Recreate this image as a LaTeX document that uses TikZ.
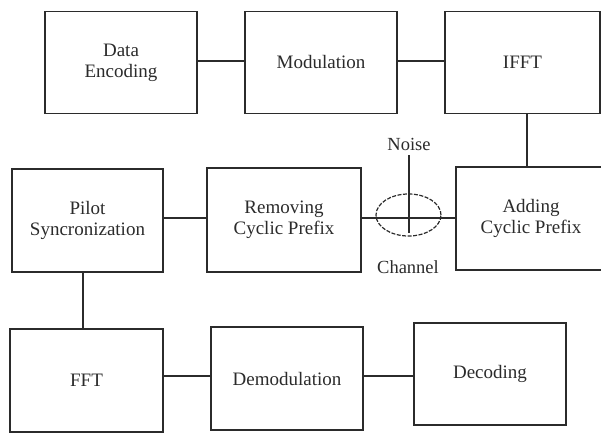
\documentclass[tikz,border=0pt]{standalone}
\usepackage{fontspec}
\setmainfont{Liberation Serif}
\usetikzlibrary{shapes.geometric}
\definecolor{ink}{HTML}{2B2B2B}
\tikzset{
  blk/.style={draw=ink, line width=1.1pt, rectangle, inner sep=0pt, align=center,
    font=\fontsize{19}{21}\selectfont, text=ink},
  conn/.style={draw=ink, line width=1.1pt},
  thickconn/.style={draw=ink, line width=2.4pt},
  lbl/.style={font=\fontsize{18.5}{20}\selectfont, text=ink, inner sep=0pt},
}
\begin{document}
\begin{tikzpicture}[x=1pt,y=-1pt]
\useasboundingbox (0,0) rectangle (601,433);
% top row
\node[blk, minimum width=152pt, minimum height=102pt] (de) at (121,62.5) {Data\\Encoding};
\node[blk, minimum width=152pt, minimum height=102pt] (mod) at (321,62.5) {Modulation};
\node[blk, minimum width=155pt, minimum height=102pt] (ifft) at (522.5,62.5) {IFFT};
% middle row
\node[blk, minimum width=151pt, minimum height=103pt] (pil) at (87.5,220.5) {Pilot\\Syncronization};
\node[blk, minimum width=154pt, minimum height=104pt] (rem) at (284,220) {Removing\\Cyclic Prefix};
\node[blk, minimum width=150pt, minimum height=103pt] (add) at (531,218.5) {Adding\\Cyclic Prefix};
% bottom row
\node[blk, minimum width=153pt, minimum height=103pt] (fft) at (86.5,380.5) {FFT};
\node[blk, minimum width=152pt, minimum height=103pt] (dem) at (287,378.5) {Demodulation};
\node[blk, minimum width=152pt, minimum height=102pt] (dec) at (490,374) {Decoding};
% channel
\node[draw=ink, line width=1.2pt, dash pattern=on 4pt off 1.5pt, ellipse,
      minimum width=65pt, minimum height=42pt, inner sep=0pt] (ch) at (408.5,215) {};
\node[lbl] (noise) at (409,144) {Noise};
\node[lbl] (chl) at (408,267) {Channel};
\coordinate (nz) at (409,233);
% connectors
\draw[conn] (de.east |- 0,61) -- (mod.west |- 0,61);
\draw[conn] (mod.east |- 0,61) -- (ifft.west |- 0,61);
\draw[conn] (ifft.south -| 527,0) -- (add.north -| 527,0);
\draw[thickconn] (add.west |- 0,218) -- (rem.east |- 0,218);
\draw[thickconn] (rem.west |- 0,218) -- (pil.east |- 0,218);
\draw[conn] (noise.south) ++(0,5) -- (nz);
\draw[conn] (pil.south -| 83,0) -- (fft.north -| 83,0);
\draw[conn] (fft.east |- 0,376) -- (dem.west |- 0,376);
\draw[conn] (dem.east |- 0,376) -- (dec.west |- 0,376);
\end{tikzpicture}
\end{document}
